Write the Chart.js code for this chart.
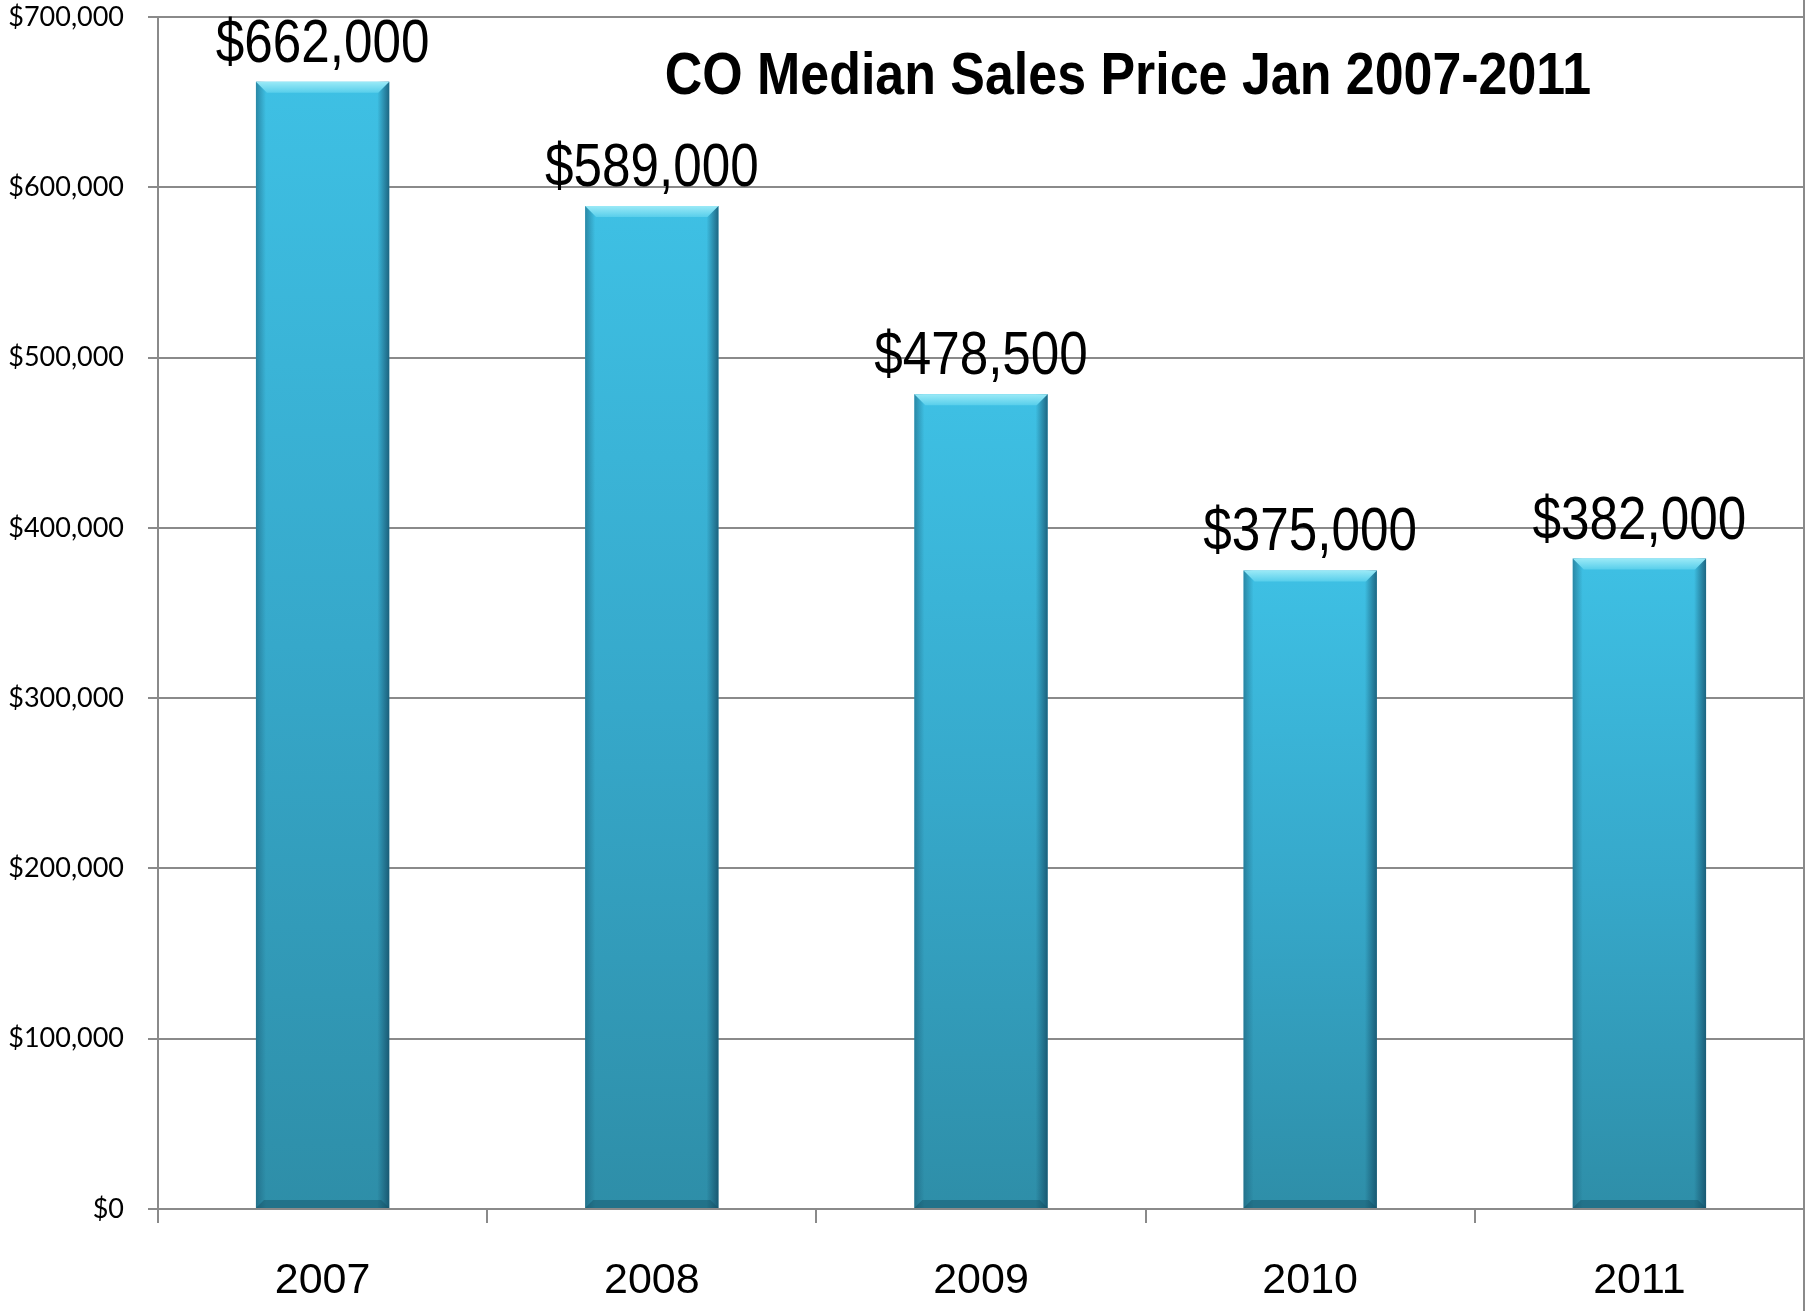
<!DOCTYPE html>
<html>
<head>
<meta charset="utf-8">
<script src="https://cdn.jsdelivr.net/npm/chart.js@4.4.1/dist/chart.umd.min.js"></script>
<style>
  html, body { margin: 0; padding: 0; background: #ffffff; }
  #wrap { width: 1806px; height: 1311px; position: relative; }
</style>
</head>
<body>
<div id="wrap"><canvas id="c" width="1806" height="1311"></canvas></div>
<script>
// ---- data ----
const categories = ['2007', '2008', '2009', '2010', '2011'];
const medianPrices = [662000, 589000, 478500, 375000, 382000];
const chartTitle = 'CO Median Sales Price Jan 2007-2011';
const yMin = 0;
const yMax = 700000;
const yStep = 100000;

const fmtMoney = v => '$' + Number(v).toLocaleString('en-US');
const priceLabels = medianPrices.map(fmtMoney);

const GRID = '#8a8a8a';

// bar bevel / shading
const bevelPlugin = {
  id: 'bevel',
  afterDatasetsDraw(chart) {
    const ctx = chart.ctx;
    const meta = chart.getDatasetMeta(0);
    meta.data.forEach(bar => {
      const w = bar.width;
      const l = bar.x - w / 2, r = bar.x + w / 2;
      const t = bar.y, b = bar.base;
      ctx.save();
      let g = ctx.createLinearGradient(l, 0, l + 10, 0);
      g.addColorStop(0, 'rgba(25,90,115,0.55)');
      g.addColorStop(1, 'rgba(25,90,115,0)');
      ctx.fillStyle = g;
      ctx.fillRect(l, t, 10, b - t);
      g = ctx.createLinearGradient(r - 12, 0, r, 0);
      g.addColorStop(0, 'rgba(15,65,90,0)');
      g.addColorStop(1, 'rgba(15,65,90,0.7)');
      ctx.fillStyle = g;
      ctx.fillRect(r - 12, t, 12, b - t);
      g = ctx.createLinearGradient(0, t, 0, t + 12);
      g.addColorStop(0, '#9BEAF7');
      g.addColorStop(1, '#52CCEA');
      ctx.fillStyle = g;
      ctx.beginPath();
      ctx.moveTo(l, t);
      ctx.lineTo(r, t);
      ctx.lineTo(r - 11, t + 11);
      ctx.lineTo(l + 11, t + 11);
      ctx.closePath();
      ctx.fill();
      ctx.fillStyle = 'rgba(20,80,100,0.45)';
      ctx.beginPath();
      ctx.moveTo(l, b);
      ctx.lineTo(r, b);
      ctx.lineTo(r - 8, b - 8);
      ctx.lineTo(l + 8, b - 8);
      ctx.closePath();
      ctx.fill();
      ctx.restore();
    });
  }
};

// title + value labels
const textPlugin = {
  id: 'texts',
  afterDraw(chart) {
    const ctx = chart.ctx;
    ctx.save();
    ctx.fillStyle = '#000';
    ctx.textAlign = 'center';
    ctx.textBaseline = 'alphabetic';
    ctx.save();
    ctx.font = 'bold 59px "Liberation Sans", Arial, sans-serif';
    ctx.translate(1128, 94);
    ctx.scale(0.88, 1);
    ctx.fillText(chartTitle, 0, 0);
    ctx.restore();
    const meta = chart.getDatasetMeta(0);
    meta.data.forEach((bar, i) => {
      ctx.save();
      ctx.font = '61px "Liberation Sans", Arial, sans-serif';
      ctx.translate(bar.x, bar.y - 20);
      ctx.scale(0.84, 1);
      ctx.fillText(priceLabels[i], 0, 0);
      ctx.restore();
    });
    ctx.strokeStyle = GRID;
    ctx.lineWidth = 2;
    ctx.beginPath();
    ctx.moveTo(chart.chartArea.right, 0);
    ctx.lineTo(chart.chartArea.right, chart.height);
    ctx.stroke();
    ctx.restore();
  }
};

new Chart(document.getElementById('c'), {
  type: 'bar',
  data: {
    labels: categories,
    datasets: [{
      data: medianPrices,
      backgroundColor: (c) => {
        const chart = c.chart;
        if (!chart.chartArea || c.raw === undefined) return '#38b4d6';
        const ys = chart.scales.y;
        const top = ys.getPixelForValue(c.raw);
        const bot = ys.getPixelForValue(0);
        const g = chart.ctx.createLinearGradient(0, top, 0, bot);
        g.addColorStop(0, '#3EC0E4');
        g.addColorStop(0.5, '#36A8CA');
        g.addColorStop(1, '#2E8EA8');
        return g;
      },
      borderWidth: 0,
      categoryPercentage: 1.0,
      barPercentage: 0.405
    }]
  },
  options: {
    responsive: false,
    animation: false,
    layout: { padding: { top: 17, right: 2, left: 0, bottom: 0 } },
    plugins: {
      legend: { display: false },
      title: { display: false },
      tooltip: { enabled: false }
    },
    scales: {
      x: {
        offset: true,
        grid: { display: true, drawOnChartArea: false, drawTicks: true, tickLength: 14, color: GRID, lineWidth: 2 },
        border: { display: true, color: GRID, width: 2 },
        ticks: {
          color: '#000',
          font: { family: '"Liberation Sans", Arial, sans-serif', size: 43 },
          padding: 32,
          maxRotation: 0
        },
        afterFit(axis) { axis.height = 102; axis.paddingLeft = 0; axis.paddingRight = 0; }
      },
      y: {
        min: yMin,
        max: yMax,
        grid: { color: GRID, lineWidth: 2, tickLength: 10, drawTicks: true },
        border: { display: true, color: GRID, width: 2 },
        ticks: {
          stepSize: yStep,
          color: '#000',
          font: { family: 'Lato, "Open Sans", sans-serif', size: 27 },
          padding: 24,
          callback: v => fmtMoney(v)
        },
        afterFit(axis) { axis.width = 158; axis.paddingTop = 0; axis.paddingBottom = 0; }
      }
    }
  },
  plugins: [bevelPlugin, textPlugin]
});
</script>
</body>
</html>
